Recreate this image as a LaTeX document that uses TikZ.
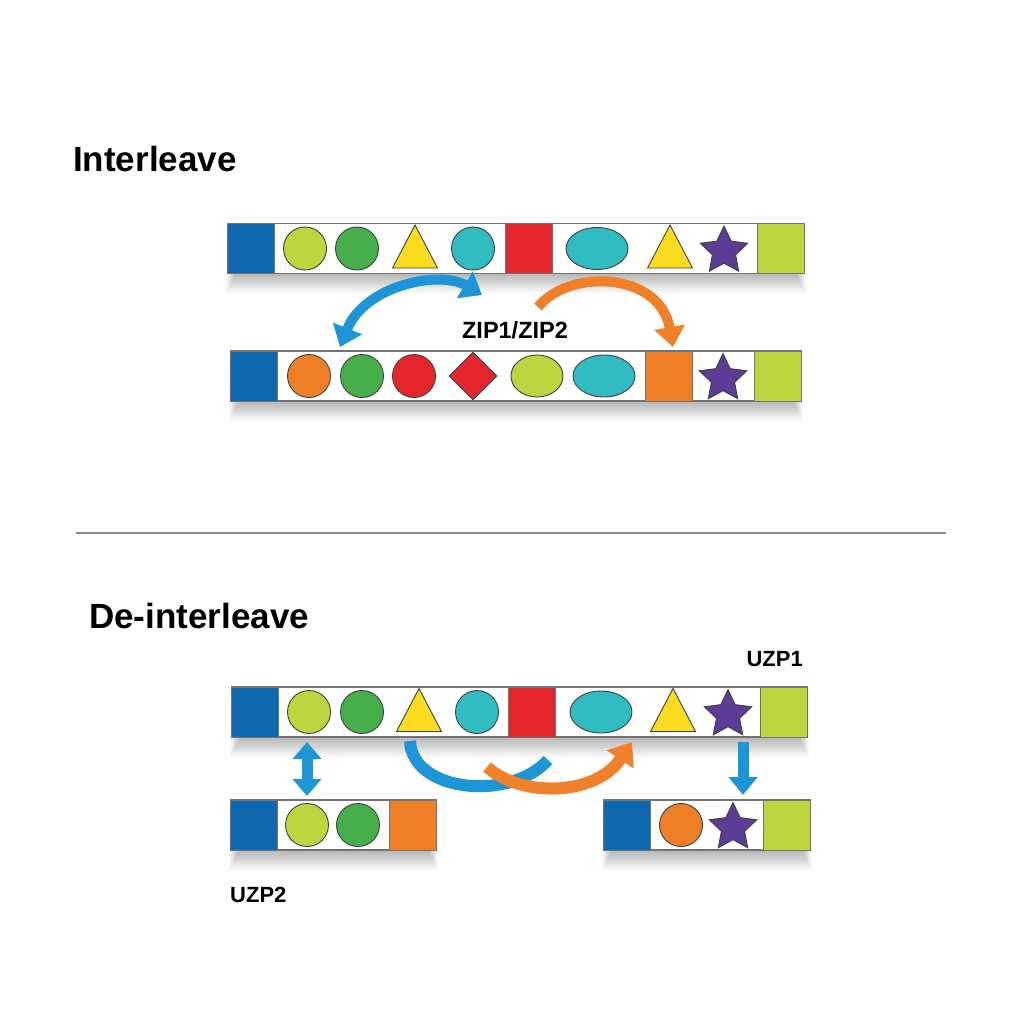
\documentclass[tikz,border=0pt]{standalone}
\usepackage{fontspec}
\setmainfont{Liberation Sans}
\usetikzlibrary{shapes.geometric,arrows.meta,calc}
\definecolor{cblue}{HTML}{0F68B0}
\definecolor{clime}{HTML}{BDD63F}
\definecolor{cgreen}{HTML}{46AE4A}
\definecolor{cyellow}{HTML}{FCDC1E}
\definecolor{cteal}{HTML}{30BCC0}
\definecolor{cred}{HTML}{E3262B}
\definecolor{corange}{HTML}{EF7F27}
\definecolor{cpurple}{HTML}{5C3C96}
\definecolor{arrblue}{HTML}{1D95D6}
\definecolor{arrorange}{HTML}{F0802A}
\definecolor{rulegray}{HTML}{8C8C8C}
\newcommand\barshade[4]{%
  \foreach \k in {1,...,12}{\fill[black,opacity=0.022] (#1+8-\k*0.8,#2+10) rectangle (#3-8+\k*0.8,#4+1+1.6*\k);}}
\begin{document}
\begin{tikzpicture}[x=1pt,y=-1pt,
  bar/.style={rectangle,draw=black!55,line width=1.2pt,fill=white,minimum height=50pt,inner sep=0pt},
  sqcell/.style={rectangle,draw=black!55,line width=1pt,minimum width=47pt,minimum height=50pt,inner sep=0pt},
  circ/.style={circle,draw=black!75,line width=0.9pt,minimum size=43pt,inner sep=0pt},
  ell/.style={ellipse,draw=black!75,line width=0.9pt,minimum width=62pt,minimum height=42pt,inner sep=0pt},
  dia/.style={diamond,draw=black!75,line width=0.9pt,minimum width=48pt,minimum height=48pt,inner sep=0pt,fill=cred},
  starcell/.style={star,star points=5,star point ratio=2.05,draw=black!75,line width=0.9pt,minimum size=50pt,inner sep=0pt,fill=cpurple},
  tri/.pic={\draw[draw=black!75,line width=0.9pt,fill=cyellow,line join=miter] (0,-21.5) -- (22.5,21.5) -- (-22.5,21.5) -- cycle;},
  title/.style={font=\bfseries\fontsize{35}{40}\selectfont,inner sep=0pt,anchor=base west},
  lbl/.style={font=\bfseries\fontsize{22}{26}\selectfont,inner sep=0pt},
  bluearrow/.style={draw=arrblue,line width=10pt},
  orangearrow/.style={draw=arrorange,line width=10pt},
  btip/.tip={Triangle[width=30pt,length=20pt]},
]
\useasboundingbox (0,0) rectangle (1024,1024);
\fill[white] (0,0) rectangle (1024,1024);

% ---------------- Interleave ----------------
\node[title] (t1) at (73,172) {Interleave};

\barshade{228}{224}{804}{273}
\node[bar,minimum width=576pt] (A) at (516,248.5) {};
\node[sqcell,fill=cblue,anchor=west] (A0) at (A.west) {};
\node[sqcell,fill=clime,anchor=east] (A9) at (A.east) {};
\node[sqcell,fill=cred] (A5) at (528.5,248.5) {};
\node[circ,fill=clime] (A1) at (305,248.5) {};
\node[circ,fill=cgreen] (A2) at (357,248.5) {};
\coordinate (A3) at (415,246.5); \pic at (A3) {tri};
\node[circ,fill=cteal] (A4) at (473,248.5) {};
\node[ell,fill=cteal] (A6) at (597,248.5) {};
\coordinate (A7) at (670,246.5); \pic at (A7) {tri};
\node[starcell] (A8) at (724,251) {};

\barshade{231}{351}{801}{401}
\node[bar,minimum width=570pt] (B) at (516,376) {};
\node[sqcell,fill=cblue,anchor=west] (B0) at (B.west) {};
\node[sqcell,fill=clime,anchor=east] (B9) at (B.east) {};
\node[sqcell,fill=corange] (B7) at (669,376) {};
\node[circ,fill=corange] (B1) at (309,376) {};
\node[circ,fill=cgreen] (B2) at (362,376) {};
\node[circ,fill=cred] (B3) at (414,376) {};
\node[dia] (B4) at (473,376) {};
\node[ell,fill=clime,minimum width=52pt] (B5) at (537,376) {};
\node[ell,fill=cteal] (B6) at (604,376) {};
\node[starcell] (B8) at (723,378.5) {};

\node[lbl,font=\bfseries\fontsize{23.5}{28}\selectfont] (zip) at (515,330) {ZIP1/ZIP2};

\coordinate (ibA) at (340,347);
\coordinate (ibB) at (482,295);
\draw[bluearrow,{btip}-{btip}] (ibA) .. controls (365,285) and (440,270) .. (ibB);
\coordinate (ioA) at (538,307);
\coordinate (ioB) at (673,347);
\draw[orangearrow,-{btip}] (ioA) .. controls (570,268) and (660,272) .. (ioB);

% divider
\coordinate (dL) at (76,533);
\coordinate (dR) at (946,533);
\draw[rulegray,line width=1.5pt] (dL) -- (dR);

% ---------------- De-interleave ----------------
\node[title] (t2) at (89,628) {De-interleave};

\barshade{232}{687}{807}{737}
\node[bar,minimum width=575pt] (C) at (519.5,712) {};
\node[sqcell,fill=cblue,anchor=west] (C0) at (C.west) {};
\node[sqcell,fill=clime,anchor=east] (C9) at (C.east) {};
\node[sqcell,fill=cred] (C5) at (531.5,712) {};
\node[circ,fill=clime] (C1) at (309,712) {};
\node[circ,fill=cgreen] (C2) at (362,712) {};
\coordinate (C3) at (419,710); \pic at (C3) {tri};
\node[circ,fill=cteal] (C4) at (477,712) {};
\node[ell,fill=cteal] (C6) at (601,712) {};
\coordinate (C7) at (673,710); \pic at (C7) {tri};
\node[starcell] (C8) at (728,714.5) {};

\barshade{231}{800}{436}{850}
\node[bar,minimum width=205pt] (D) at (333.5,825) {};
\node[sqcell,fill=cblue,anchor=west] (D0) at (D.west) {};
\node[sqcell,fill=corange,anchor=east] (D3) at (D.east) {};
\node[circ,fill=clime] (D1) at (307,825) {};
\node[circ,fill=cgreen] (D2) at (358,825) {};

\barshade{604}{800}{810}{850}
\node[bar,minimum width=206pt] (E) at (707,825) {};
\node[sqcell,fill=cblue,anchor=west] (E0) at (E.west) {};
\node[sqcell,fill=clime,anchor=east] (E3) at (E.east) {};
\node[circ,fill=corange] (E1) at (681,825) {};
\node[starcell] (E2) at (733,827.5) {};

\node[lbl,anchor=base east] (u1) at (803,666) {UZP1};
\node[lbl,anchor=base west] (u2) at (230,902) {UZP2};

% arrows
\coordinate (vA) at (307,742);
\coordinate (vB) at (307,796);
\draw[bluearrow,line width=11pt,{Triangle[width=28pt,length=17pt]}-{Triangle[width=28pt,length=17pt]}] (vA) -- (vB);
\coordinate (wA) at (743,742);
\coordinate (wB) at (743,795);
\draw[bluearrow,line width=11pt,-{Triangle[width=28pt,length=18pt]}] (wA) -- (wB);
\coordinate (bcA) at (410,741);
\coordinate (bcB) at (548,760);
\draw[bluearrow,line width=12pt] (bcA) .. controls (412,792) and (510,802) .. (bcB);
\coordinate (ocA) at (487,767);
\coordinate (ocB) at (632,742);
\draw[orangearrow,line width=12pt,-{Triangle[width=31pt,length=21pt]}] (ocA) .. controls (520,797) and (595,797) .. (ocB);
\end{tikzpicture}
\end{document}
